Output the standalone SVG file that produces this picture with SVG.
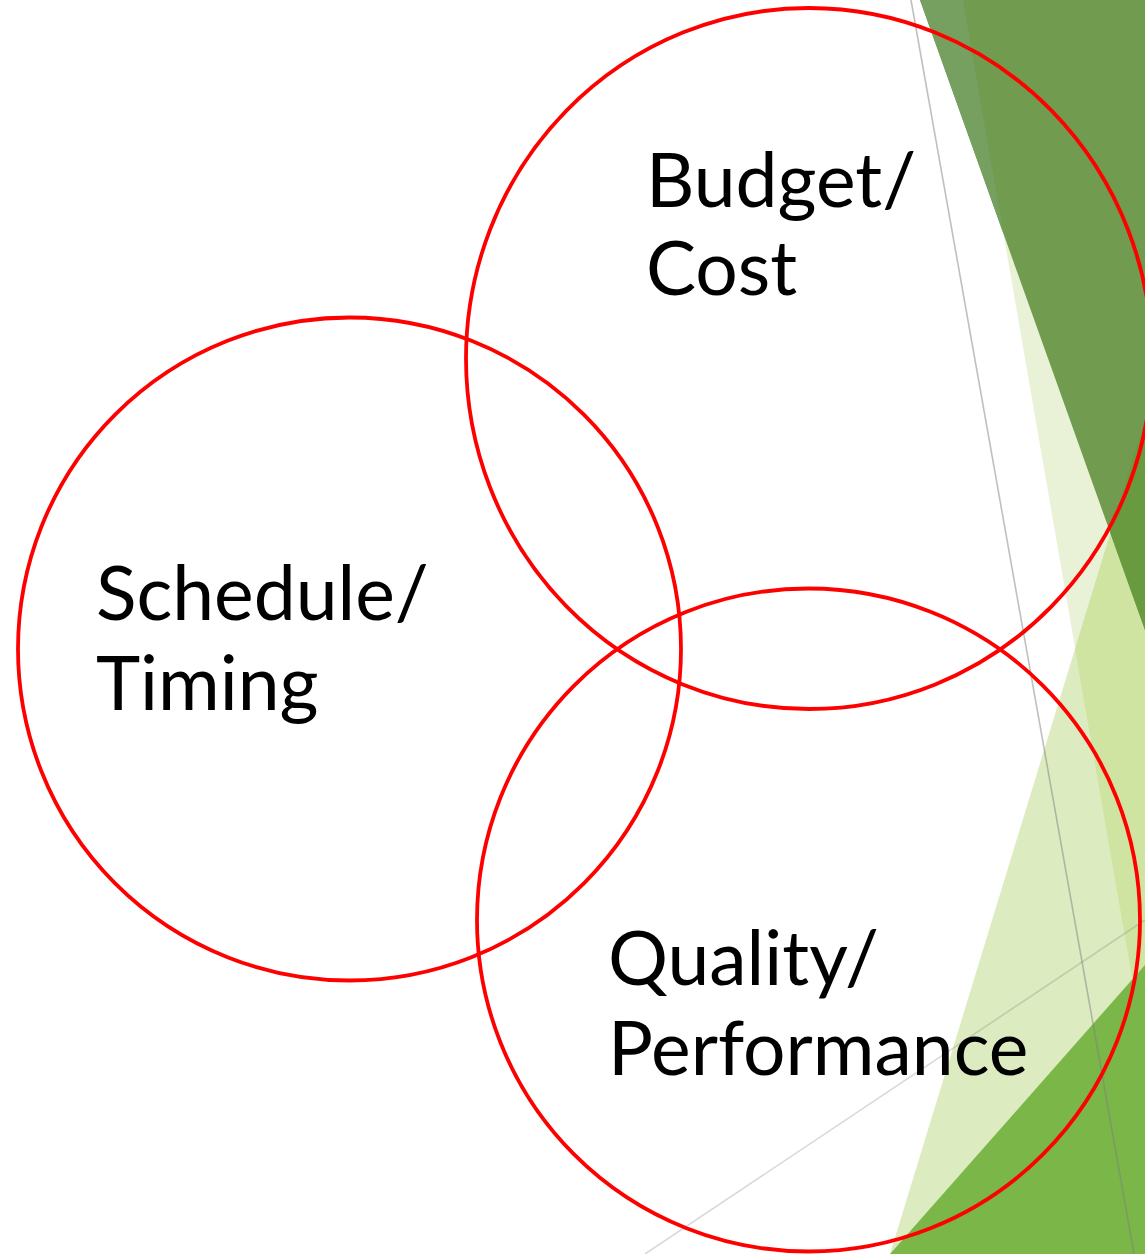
<svg xmlns="http://www.w3.org/2000/svg" width="1145" height="1254" viewBox="0 0 1145 1254">
<style>
.lbl{font-family:Lato,"Open Sans","DejaVu Sans",sans-serif;font-size:75px;fill:#000}
.ring{fill:none;stroke:#FF0000;stroke-width:3.8}
.gl{fill:none;stroke:#808080;stroke-width:1.6}
</style>
<rect width="1145" height="1254" fill="#FFFFFF"/>
<g id="decor">
<polygon points="963,0 1145,0 1145,1052" fill="#E9F2D7"/>
<polygon points="890,1254 1145,420 1145,1254" fill="#DDEBC0"/>
<polygon points="1145,420 1075,649 1145,1052" fill="#CFE4A1"/>
<polygon points="920,0 1145,0 1145,630" fill="#719B4E"/>
<polygon points="920,0 963,0 1003.5,234" fill="#76A060"/>
<polygon points="1145,420 1110.5,533.5 1145,630" fill="#699A40"/>
<polygon points="890,1254 1145,965 1145,1254" fill="#7AB648"/>
<line class="gl" x1="911" y1="0" x2="1134" y2="1254" stroke-opacity="0.5"/>
<line class="gl" x1="645" y1="1254" x2="1145" y2="920" stroke-opacity="0.3"/>
</g>
<g id="budget">
<ellipse class="ring" cx="809" cy="358.5" rx="343" ry="350.5"/>
<text class="lbl" x="646" y="207">Budget/</text>
<text class="lbl" x="646" y="295">Cost</text>
</g>
<g id="schedule">
<circle class="ring" cx="349.5" cy="649" r="331.5"/>
<text class="lbl" x="96" y="620">Schedule/</text>
<text class="lbl" x="96" y="710">Timing</text>
</g>
<g id="quality">
<circle class="ring" cx="808.5" cy="920" r="331.5"/>
<text class="lbl" x="608" y="985">Quality/</text>
<text class="lbl" x="608" y="1075">Performance</text>
</g>
</svg>
